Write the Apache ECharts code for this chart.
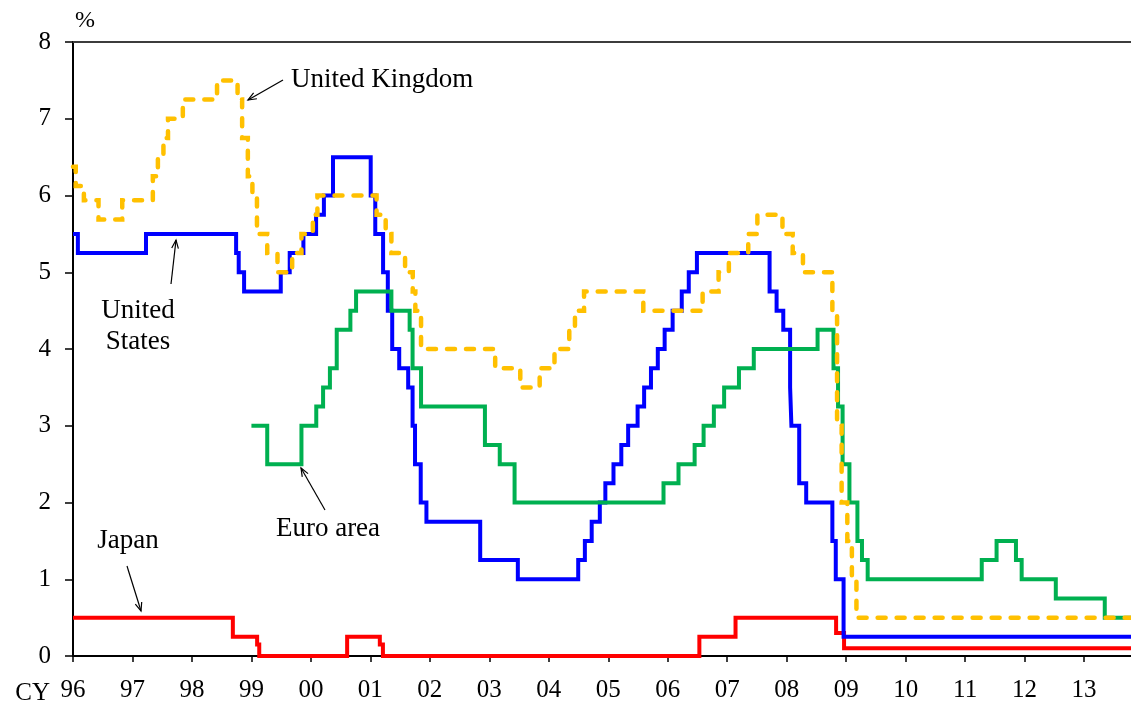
<!DOCTYPE html>
<html>
<head>
<meta charset="utf-8">
<script src="https://cdn.jsdelivr.net/npm/echarts@6/dist/echarts.min.js"></script>
<style>
html,body{margin:0;padding:0;background:#fff;}
#chart{width:1131px;height:709px;}
</style>
</head>
<body>
<div id="chart"></div>
<script>
// ---- Data (policy rate change dates and levels, %) ----
const US_DATES = ['1996-01-01','1996-01-31','1997-03-25','1998-09-29','1998-10-15','1998-11-17','1999-06-30','1999-08-24','1999-11-16','2000-02-02','2000-03-21','2000-05-16','2001-01-03','2001-01-31','2001-03-20','2001-04-18','2001-05-15','2001-06-27','2001-08-21','2001-09-17','2001-10-02','2001-11-06','2001-12-11','2002-11-06','2003-06-25','2004-06-30','2004-08-10','2004-09-21','2004-11-10','2004-12-14','2005-02-02','2005-03-22','2005-05-03','2005-06-30','2005-08-09','2005-09-20','2005-11-01','2005-12-13','2006-01-31','2006-03-28','2006-05-10','2006-06-29','2007-09-18','2007-10-31','2007-12-11','2008-01-22','2008-01-30','2008-03-18','2008-04-30','2008-10-08','2008-10-29','2008-12-16'];
const US_RATES = [5.5,5.25,5.5,5.25,5.0,4.75,5.0,5.25,5.5,5.75,6.0,6.5,6.0,5.5,5.0,4.5,4.0,3.75,3.5,3.0,2.5,2.0,1.75,1.25,1.0,1.25,1.5,1.75,2.0,2.25,2.5,2.75,3.0,3.25,3.5,3.75,4.0,4.25,4.5,4.75,5.0,5.25,4.75,4.5,4.25,3.5,3.0,2.25,2.0,1.5,1.0,0.25];

const EU_DATES = ['1999-01-01','1999-04-08','1999-11-04','2000-02-03','2000-03-16','2000-04-27','2000-06-08','2000-08-31','2000-10-05','2001-05-10','2001-08-30','2001-09-17','2001-11-08','2002-12-05','2003-03-06','2003-06-05','2005-12-06','2006-03-08','2006-06-15','2006-08-09','2006-10-11','2006-12-13','2007-03-14','2007-06-13','2008-07-09','2008-10-15','2008-11-12','2008-12-10','2009-01-21','2009-03-11','2009-04-08','2009-05-13','2011-04-13','2011-07-13','2011-11-09','2011-12-14','2012-07-11','2013-05-08'];
const EU_RATES = [3.0,2.5,3.0,3.25,3.5,3.75,4.25,4.5,4.75,4.5,4.25,3.75,3.25,2.75,2.5,2.0,2.25,2.5,2.75,3.0,3.25,3.5,3.75,4.0,4.25,3.75,3.25,2.5,2.0,1.5,1.25,1.0,1.25,1.5,1.25,1.0,0.75,0.5];

const JP_DATES = ['1996-01-01','1998-09-09','1999-02-05','1999-02-18','2000-08-11','2001-02-28','2001-03-19','2006-07-14','2007-02-21','2008-10-31','2008-12-19'];
const JP_RATES = [0.5,0.25,0.15,0.0,0.25,0.15,0.0,0.25,0.5,0.3,0.1];

const UK_DATES = ['1996-01-01','1996-01-18','1996-03-08','1996-06-06','1996-10-30','1997-05-06','1997-06-06','1997-07-10','1997-08-07','1997-11-06','1998-06-04','1998-10-08','1998-11-05','1998-12-10','1999-01-07','1999-02-04','1999-04-08','1999-06-10','1999-09-08','1999-11-04','2000-01-13','2000-02-10','2001-02-08','2001-04-05','2001-05-10','2001-08-02','2001-09-18','2001-10-04','2001-11-08','2003-02-06','2003-07-10','2003-11-06','2004-02-05','2004-05-06','2004-06-10','2004-08-05','2005-08-04','2006-08-03','2006-11-09','2007-01-11','2007-05-10','2007-07-05','2007-12-06','2008-02-07','2008-04-10','2008-10-08','2008-11-06','2008-12-04','2009-01-08','2009-02-05','2009-03-05'];
const UK_RATES = [6.375,6.125,5.9375,5.6875,5.9375,6.25,6.5,6.75,7.0,7.25,7.5,7.25,6.75,6.25,6.0,5.5,5.25,5.0,5.25,5.5,5.75,6.0,5.75,5.5,5.25,5.0,4.75,4.5,4.0,3.75,3.5,3.75,4.0,4.25,4.5,4.75,4.5,4.75,5.0,5.25,5.5,5.75,5.5,5.25,5.0,4.5,3.0,2.0,1.5,1.0,0.5];

const END_DATE = '2013-10-16';
const YEAR_TICKS = [1996,1997,1998,1999,2000,2001,2002,2003,2004,2005,2006,2007,2008,2009,2010,2011,2012,2013];
const Y_TICK_LABELS = ['0','1','2','3','4','5','6','7','8'];

// ---- helpers ----
function toYear(s){
  const p = s.split('-').map(Number);
  const t = Date.UTC(p[0], p[1]-1, p[2]);
  const a = Date.UTC(p[0], 0, 1), b = Date.UTC(p[0]+1, 0, 1);
  return p[0] + (t - a) / (b - a);
}
const X_MAX = toYear(END_DATE);
function build(dates, rates){
  const d = dates.map((s,i)=>[toYear(s), rates[i]]);
  d.push([X_MAX, rates[rates.length-1]]);
  return d;
}

const FONT = '"Liberation Serif", "Times New Roman", serif';
const chart = echarts.init(document.getElementById('chart'), null, {renderer:'canvas'});

function line(color, width, dashed){
  const ls = {color: color, width: width, cap: dashed ? 'round' : 'butt', join: 'miter'};
  if (dashed) ls.type = [8, 11];
  return ls;
}

function arrow(x1, y1, x2, y2){
  const ang = Math.atan2(y2 - y1, x2 - x1);
  const L = 9, A = 0.38;
  const p1 = [x2 - L*Math.cos(ang - A), y2 - L*Math.sin(ang - A)];
  const p2 = [x2 - L*Math.cos(ang + A), y2 - L*Math.sin(ang + A)];
  return [
    {type:'line', shape:{x1:x1,y1:y1,x2:x2,y2:y2}, style:{stroke:'#000', lineWidth:1.2}, z:100},
    {type:'polyline', shape:{points:[p1,[x2,y2],p2]}, style:{stroke:'#000', lineWidth:1.2, fill:null}, z:100}
  ];
}
function label(text, x, y, align){
  return {type:'text', x:x, y:y, z:100,
    style:{text:text, font:'27px ' + FONT, fill:'#000', textAlign:align||'center', textVerticalAlign:'middle'}};
}

const option = {
  animation: false,
  backgroundColor: '#fff',
  grid: {left: 73, right: 0, top: 42, bottom: 53, containLabel: false},
  xAxis: [{
    type: 'value', min: 1996, max: X_MAX,
    axisLine: {show: true, lineStyle: {color: '#000', width: 2}},
    axisTick: {show: true, inside: false, length: 6, customValues: YEAR_TICKS, lineStyle: {color: '#000', width: 1.5}},
    axisLabel: {show: true, customValues: YEAR_TICKS, margin: 22, color: '#000',
      fontFamily: FONT, fontSize: 25,
      formatter: v => String(Math.round(v)).slice(2)},
    splitLine: {show: false}
  },{
    type: 'value', position: 'top', min: 1996, max: X_MAX,
    axisLine: {show: true, onZero: false, lineStyle: {color: '#3c3c3c', width: 2}},
    axisTick: {show: false}, axisLabel: {show: false}, splitLine: {show: false}
  }],
  yAxis: {
    type: 'value', min: 0, max: 8, interval: 1,
    axisLine: {show: true, lineStyle: {color: '#000', width: 2}},
    axisTick: {show: true, length: 8, lineStyle: {color: '#000', width: 1.5}},
    axisLabel: {margin: 22, color: '#000', fontFamily: FONT, fontSize: 25,
      formatter: v => Y_TICK_LABELS[Math.round(v)]},
    splitLine: {show: false}
  },
  series: [
    {name:'Japan', type:'line', step:'end', showSymbol:false, data: build(JP_DATES, JP_RATES), lineStyle: line('#FF0000', 4), z: 2},
    {name:'United States', type:'line', step:'end', showSymbol:false, data: build(US_DATES, US_RATES), lineStyle: line('#0000FF', 4), z: 3},
    {name:'Euro area', type:'line', step:'end', showSymbol:false, data: build(EU_DATES, EU_RATES), lineStyle: line('#00B050', 4), z: 4},
    {name:'United Kingdom', type:'line', step:'end', showSymbol:false, data: build(UK_DATES, UK_RATES), lineStyle: line('#FFC000', 4.5, true), z: 5}
  ],
  graphic: [].concat(
    [{type:'text', x:75, y:21, z:100, style:{text:'%', font:'24px ' + FONT, fill:'#000', textAlign:'left', textVerticalAlign:'middle'}}],
    [{type:'text', x:50, y:693, z:100, style:{text:'CY', font:'25px ' + FONT, fill:'#000', textAlign:'right', textVerticalAlign:'middle'}}],
    [label('United Kingdom', 291, 80, 'left')],
    arrow(283, 80, 248, 100),
    [label('United', 138, 311), label('States', 138, 342)],
    arrow(171, 284, 176, 240),
    [label('Euro area', 328, 529)],
    arrow(325, 510, 301, 468),
    [label('Japan', 128, 541)],
    arrow(127, 566, 141, 611)
  )
};
chart.setOption(option);
</script>
</body>
</html>
